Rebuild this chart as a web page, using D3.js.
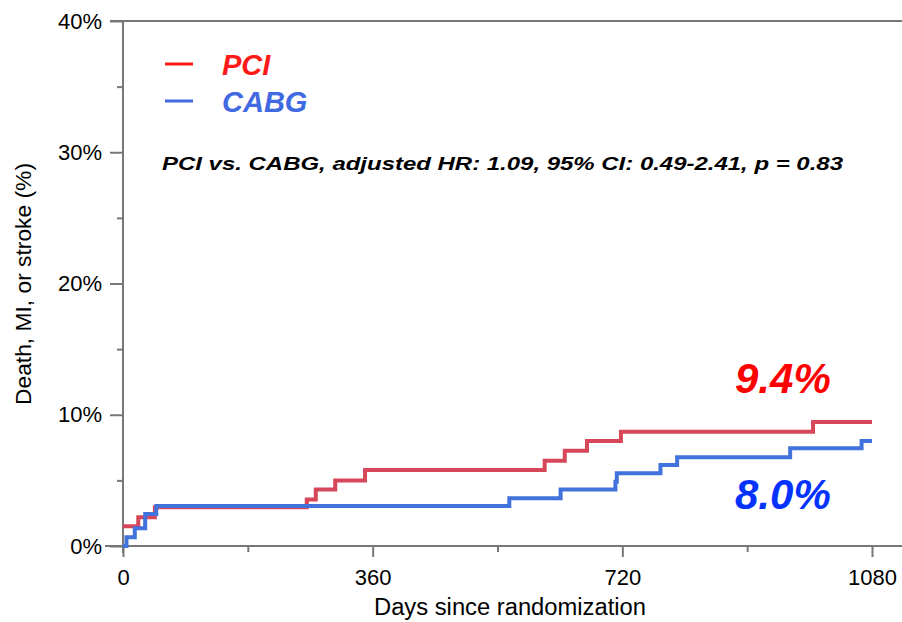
<!DOCTYPE html>
<html><head><meta charset="utf-8">
<script src="https://cdn.jsdelivr.net/npm/d3@7"></script>
<style>body{margin:0;background:#fff}svg{display:block}text{font-family:"Liberation Sans",Arial,sans-serif}</style>
</head><body><svg id="c" width="902" height="622"></svg>
<script>
const pciDays = [0, 22, 46, 265, 278, 306, 349, 608, 637, 669, 718, 995, 1080];
const pciVals = [1.5, 2.2, 2.95, 3.55, 4.3, 5.0, 5.8, 6.5, 7.26, 8.0, 8.7, 9.45, 9.45];
const cabgDays = [0, 5, 17, 32, 48, 557, 631, 710, 712, 775, 799, 962, 1065, 1080];
const cabgVals = [0, 0.66, 1.35, 2.44, 3.05, 3.63, 4.3, 4.9, 5.54, 6.17, 6.76, 7.44, 8.0, 8.0];
const xTicks = [0, 360, 720, 1080];
const xMinor = [180, 540, 900];
const yTicks = [0, 10, 20, 30, 40];
const yMinor = [5, 15, 25, 35];

const svg = d3.select("#c");
const x = d3.scaleLinear().domain([0, 1080]).range([123, 872]);
const y = d3.scaleLinear().domain([0, 40]).range([546, 21]);
const axisCol = "#777";

svg.append("line").attr("x1", 123).attr("x2", 902).attr("y1", 546).attr("y2", 546).attr("stroke", axisCol).attr("stroke-width", 2);
svg.append("line").attr("x1", 110).attr("x2", 902).attr("y1", 21).attr("y2", 21).attr("stroke", axisCol).attr("stroke-width", 2);

const yAx = svg.append("g").attr("transform", "translate(123,0)")
  .call(d3.axisLeft(y).tickValues(yTicks).tickFormat(d => d + "%").tickSize(13).tickPadding(8));
const yAxm = svg.append("g").attr("transform", "translate(123,0)")
  .call(d3.axisLeft(y).tickValues(yMinor).tickFormat("").tickSize(6));
const xAx = svg.append("g").attr("transform", "translate(0,546)")
  .call(d3.axisBottom(x).tickValues(xTicks).tickFormat(d3.format("d")).tickSize(11).tickPadding(12));
const xAxm = svg.append("g").attr("transform", "translate(0,546)")
  .call(d3.axisBottom(x).tickValues(xMinor).tickFormat("").tickSize(6));
[yAx, yAxm, xAx, xAxm].forEach(g => {
  g.selectAll("path").attr("stroke", axisCol).attr("stroke-width", 2);
  g.selectAll(".tick line").attr("stroke", axisCol).attr("stroke-width", 2);
  g.selectAll("text").attr("fill", "#000").style("font-size", "22px");
});
yAx.select(".domain").attr("d", "M0,21V553");
xAx.select(".domain").attr("d", "M105,0H902");
yAxm.select(".domain").remove();
xAxm.select(".domain").remove();

const line = d3.line().x(d => x(d[0])).y(d => y(d[1])).curve(d3.curveStepAfter);
svg.append("path").datum(pciDays.map((d, i) => [d, pciVals[i]]))
  .attr("d", line).attr("fill", "none").attr("stroke", "#d7475a").attr("stroke-width", 4);
svg.append("path").datum(cabgDays.map((d, i) => [d, cabgVals[i]]))
  .attr("d", line).attr("fill", "none").attr("stroke", "#4272dc").attr("stroke-width", 4);

svg.append("line").attr("x1", 165).attr("x2", 193).attr("y1", 64).attr("y2", 64).attr("stroke", "#ff1a1a").attr("stroke-width", 3);
svg.append("line").attr("x1", 165).attr("x2", 193).attr("y1", 101).attr("y2", 101).attr("stroke", "#4169e1").attr("stroke-width", 3);
svg.append("text").attr("x", 222).attr("y", 75).text("PCI").attr("fill", "#ff1a1a")
  .style("font-size", "29px").style("font-weight", "bold").style("font-style", "italic");
svg.append("text").attr("x", 222).attr("y", 112).text("CABG").attr("fill", "#4169e1")
  .style("font-size", "29px").style("font-weight", "bold").style("font-style", "italic");

svg.append("text").attr("x", 162).attr("y", 170)
  .text("PCI vs. CABG, adjusted HR: 1.09, 95% CI: 0.49-2.41, p = 0.83")
  .attr("fill", "#000").style("font-size", "19px").style("font-weight", "bold").style("font-style", "italic")
  .attr("textLength", 681).attr("lengthAdjust", "spacingAndGlyphs");

svg.append("text").attr("x", 735).attr("y", 393).text("9.4%").attr("fill", "#ff0000")
  .style("font-size", "42px").style("font-weight", "bold").style("font-style", "italic");
svg.append("text").attr("x", 735).attr("y", 509).text("8.0%").attr("fill", "#0433ff")
  .style("font-size", "42px").style("font-weight", "bold").style("font-style", "italic");

svg.append("text").attr("x", 510).attr("y", 615).attr("text-anchor", "middle")
  .text("Days since randomization").style("font-size", "23px").attr("fill", "#000")
  .attr("textLength", 272).attr("lengthAdjust", "spacingAndGlyphs");
svg.append("text").attr("transform", "translate(31,284) rotate(-90)").attr("text-anchor", "middle")
  .text("Death, MI, or stroke (%)").style("font-size", "22px").attr("fill", "#000")
  .attr("textLength", 242).attr("lengthAdjust", "spacingAndGlyphs");
</script></body></html>
